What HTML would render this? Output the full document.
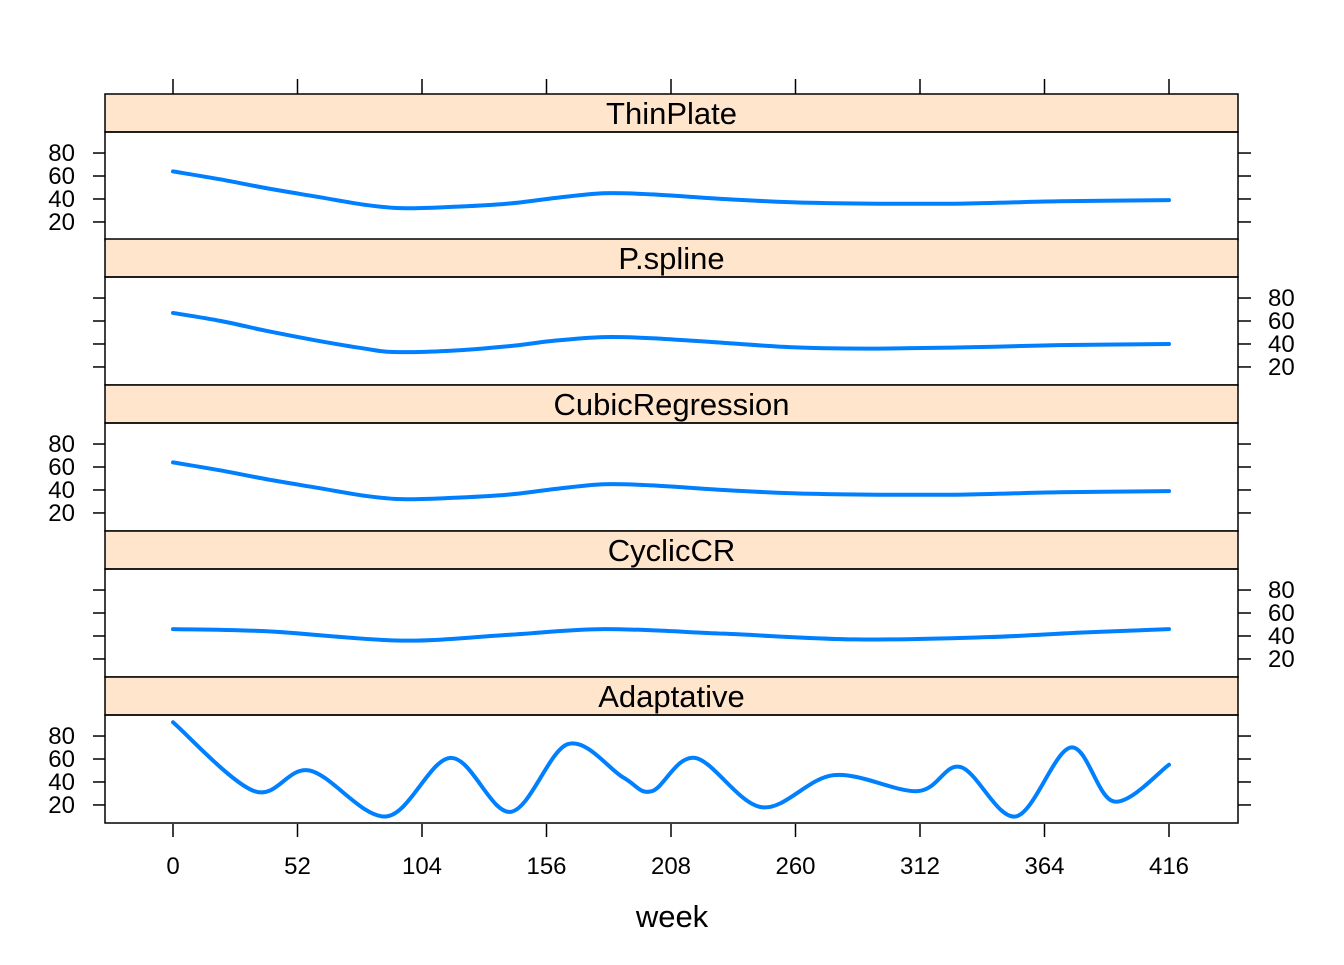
<!DOCTYPE html>
<html><head><meta charset="utf-8"><style>
body{margin:0;background:#fff}
svg text{font-family:"Liberation Sans",sans-serif;fill:#000}
</style></head><body>
<svg id="c" width="1344" height="960"></svg>
<script>
const panelNames=["ThinPlate","P.spline","CubicRegression","CyclicCR","Adaptative"];
const xTicks=[0,52,104,156,208,260,312,364,416];
const yTicks=[20,40,60,80];
const weeksThin=[0,20,40,60,80,95,115,140,160,180,200,230,260,290,330,370,416];
const valsThin=[64,57,49,42,35,32,33,36,41,45,44,40,37,36,36,38,39];
const weeksPs=[0,20,40,60,80,92,115,140,160,180,200,230,260,290,330,370,416];
const valsPs=[67,60,51,43,36,33,34,38,43,46,45,41,37,36,37,39,40];
const weeksCR=[0,20,40,60,80,95,115,140,160,180,200,230,260,290,330,370,416];
const valsCR=[64,57,49,42,35,32,33,36,41,45,44,40,37,36,36,38,39];
const weeksCy=[0,40,95,140,180,230,285,340,380,416];
const valsCy=[46,44,36,41,46,42,37,39,43,46];
const weeksAd=[0,34,57,89,116,141,165,188,200,218,246,276,311,329,352,375,393,416];
const valsAd=[92,32,50,10,61,14,73,44,32,61,18,46,32,53,10,70,23,55];
const series=[[weeksThin,valsThin],[weeksPs,valsPs],[weeksCR,valsCR],[weeksCy,valsCy],[weeksAd,valsAd]];
const NS="http://www.w3.org/2000/svg";
const svg=document.getElementById('c');
function mk(t,a,p){const e=document.createElementNS(NS,t);for(const k in a)e.setAttribute(k,a[k]);(p||svg).appendChild(e);return e;}
const X0=105,X1=1238;
const xs=w=>173+w*(996/416);
const stripTops=[94,239,385,531,677];
const panH=108,stripH=38;
function panelY(i){const top=stripTops[i]+stripH;return v=>top+108-(v-4.3)*(108/94);}
series.forEach((s,i)=>{
  const st=stripTops[i],pt=st+stripH;
  const ys=panelY(i);
  const strip=mk('rect',{x:X0,y:st,width:X1-X0,height:stripH,fill:'#ffe5cc',stroke:'#000','stroke-width':1.5});
  
  
  const t=mk('text',{x:(X0+X1)/2,y:st+30,'text-anchor':'middle','font-size':31});
  t.textContent=panelNames[i];
  
  
  const pr=mk('rect',{x:X0,y:pt,width:X1-X0,height:panH,fill:'none',stroke:'#000','stroke-width':1.5});
  
  
  const left=(i%2==0);
  yTicks.forEach(v=>{
    const y=ys(v);
    mk('line',{x1:X0-12,x2:X0,y1:y,y2:y,stroke:'#000','stroke-width':1.5});
    mk('line',{x1:X1,x2:X1+13,y1:y,y2:y,stroke:'#000','stroke-width':1.5});
    const lt=mk('text',{x:left?75:1268,y:y+8,'text-anchor':left?'end':'start','font-size':24});
    lt.textContent=v;
    
    
  });
  const [W,V]=s;const P=W.map((w,k)=>[xs(w),ys(V[k])]);
  let d='M'+P[0][0]+','+P[0][1];
  for(let k=0;k<P.length-1;k++){
    const p0=P[k-1]||P[k],p1=P[k],p2=P[k+1],p3=P[k+2]||P[k+1];
    const c1=[p1[0]+(p2[0]-p0[0])/6,p1[1]+(p2[1]-p0[1])/6];
    const c2=[p2[0]-(p3[0]-p1[0])/6,p2[1]-(p3[1]-p1[1])/6];
    d+=` C${c1[0]},${c1[1]} ${c2[0]},${c2[1]} ${p2[0]},${p2[1]}`;
  }
  const ln=mk('path',{d:d,fill:'none',stroke:'#0080ff','stroke-width':4,'stroke-linecap':'round'});
  
  
});
xTicks.forEach(w=>{
  const x=xs(w);
  mk('line',{x1:x,x2:x,y1:79,y2:94,stroke:'#000','stroke-width':1.5});
  mk('line',{x1:x,x2:x,y1:824,y2:837,stroke:'#000','stroke-width':1.5});
  const t=mk('text',{x:x,y:874,'text-anchor':'middle','font-size':24});
  t.textContent=w;
  
  
});
const xl=mk('text',{x:672,y:927,'text-anchor':'middle','font-size':31});
xl.textContent='week';


</script>
</body></html>
